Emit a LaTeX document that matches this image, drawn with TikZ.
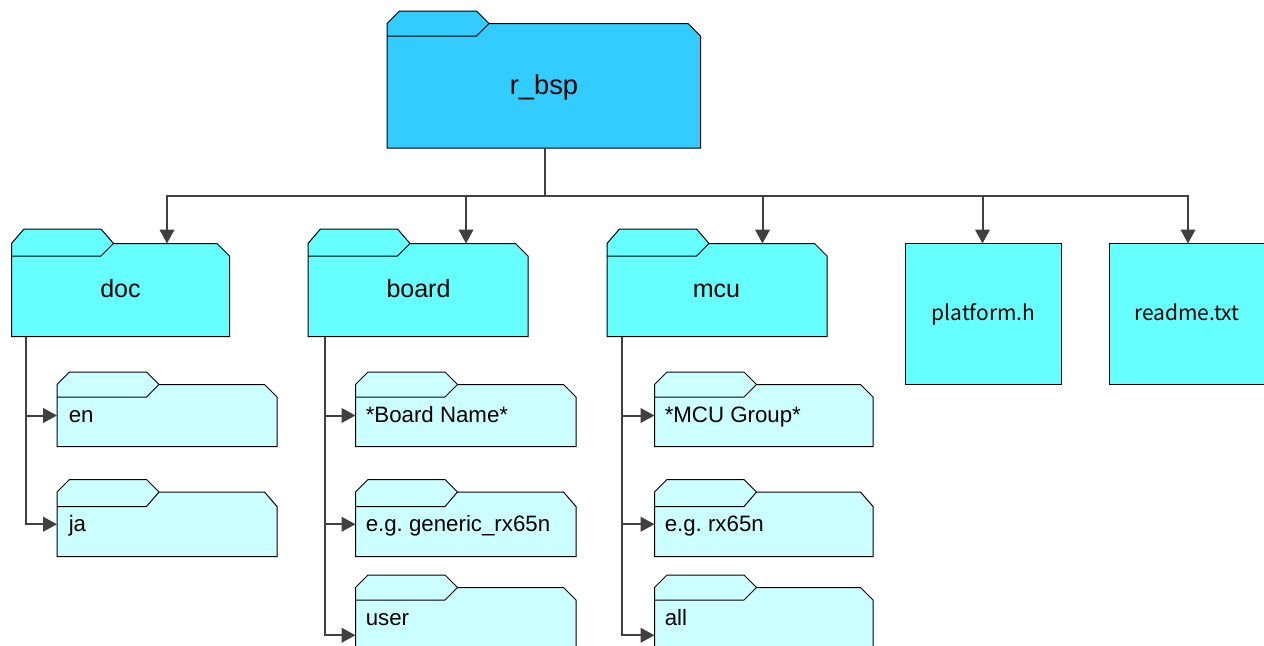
\documentclass[tikz,border=0pt]{standalone}
\usepackage{fontspec}
\setmainfont{Liberation Sans}
\newfontfamily\gothic{Noto Sans CJK JP}
\usetikzlibrary{arrows.meta}
\definecolor{rootblue}{HTML}{33CCFF}
\definecolor{midcyan}{HTML}{66FFFF}
\definecolor{palecyan}{HTML}{CCFFFF}
\definecolor{linkgrey}{HTML}{404040}
\frenchspacing
\tikzset{
  x=0.75pt,y=-0.75pt,
  outline/.style={draw=black,line width=0.75pt,line join=miter},
  anchorbox/.style={rectangle,inner sep=0pt,outer sep=0pt,anchor=north west},
  conn/.style={draw=linkgrey,line width=1.5pt,line join=miter},
  arrowconn/.style={conn,-{Triangle[length=10.5pt,width=11pt]}},
  lblroot/.style={anchor=base,inner sep=0pt,font=\fontsize{20.5pt}{24pt}\selectfont},
  lblmid/.style={anchor=base,inner sep=0pt,font=\fontsize{18.75pt}{22pt}\selectfont},
  lblsub/.style={anchor=base west,inner sep=0pt,font=\fontsize{16.7pt}{20pt}\selectfont},
  lblfile/.style={anchor=base,inner sep=0pt,font=\gothic\fontsize{15.75pt}{18pt}\selectfont},
}
% name, x1, x2, tab top, body top, tab line, bottom, fill
\newcommand{\folderbox}[8]{%
  \path[outline,fill=#8]
    (#2,#5) -- (#2+12.5,#4) -- (#2+89.5,#4) -- (#2+102,#5)
    -- (#3-12.5,#5) -- (#3,#6) -- (#3,#7) -- (#2,#7) -- cycle;
  \path[outline] (#2,#6) -- (#2+89.5,#6) -- (#2+102,#5);
  \node[anchorbox,minimum width={(#3-#2)*0.75pt},minimum height={(#7-#5)*0.75pt}] (#1) at (#2,#5) {};
}
\begin{document}
\begin{tikzpicture}
\useasboundingbox (0,0) rectangle (1264,646);

\folderbox{rbsp}{387}{700.5}{11}{23.5}{36}{148}{rootblue}
\node[lblroot] (rbspT) at (544,94.5) {r\_bsp};

\folderbox{doc}{11.5}{229.5}{229}{243.5}{256}{336.5}{midcyan}
\node[lblmid] (docT) at (120.5,297.3) {doc};
\folderbox{board}{308}{528}{229}{243.5}{256}{336.5}{midcyan}
\node[lblmid] (boardT) at (418.5,297.3) {board};
\folderbox{mcu}{607}{827}{229}{243.5}{256}{336.5}{midcyan}
\node[lblmid] (mcuT) at (716.5,297.3) {mcu};

\node[anchorbox,outline,fill=midcyan,minimum width={156*0.75pt},minimum height={140.5*0.75pt}] (platform) at (905.5,243.5) {};
\node[lblfile] (platformT) at (983.5,320.5) {platform.h};
\node[anchorbox,outline,fill=midcyan,minimum width={165*0.75pt},minimum height={140.5*0.75pt}] (readme) at (1109,243.5) {};
\node[lblfile] (readmeT) at (1187,320.5) {readme.txt};

\folderbox{en}{57}{277}{372}{384.5}{397}{446.5}{palecyan}
\node[lblsub] (enT) at (68.5,422.3) {en};
\folderbox{ja}{57}{277}{479.5}{492}{506.5}{556.5}{palecyan}
\node[lblsub] (jaT) at (68.5,531.2) {ja};

\folderbox{bname}{355.5}{576}{372}{384.5}{397}{446.5}{palecyan}
\node[lblsub] (bnameT) at (365.5,422.3) {*Board Name*};
\folderbox{bgen}{355.5}{576}{479.5}{492}{506.5}{556.5}{palecyan}
\node[lblsub] (bgenT) at (365.5,531.2) {e.g. generic\_rx65n};
\folderbox{buser}{355.5}{576}{575}{587.5}{600}{683}{palecyan}
\node[lblsub] (buserT) at (365.5,625) {user};

\folderbox{mgroup}{654.5}{873}{372}{384.5}{397}{446.5}{palecyan}
\node[lblsub] (mgroupT) at (664.5,422.3) {*MCU Group*};
\folderbox{mrx}{654.5}{873}{479.5}{492}{506.5}{556.5}{palecyan}
\node[lblsub] (mrxT) at (664.5,531.2) {e.g. rx65n};
\folderbox{mall}{654.5}{873}{575}{587.5}{600}{683}{palecyan}
\node[lblsub] (mallT) at (664.5,625) {all};

% connectors
\coordinate (trunk) at (544.5,195.5);
\coordinate (b1) at (167,195.5);
\coordinate (b2) at (466,195.5);
\coordinate (b3) at (762.5,195.5);
\coordinate (b4) at (982.5,195.5);
\coordinate (b5) at (1188,195.5);
\draw[conn] (trunk |- rbsp.south) -- (trunk);
\draw[arrowconn] (trunk) -- (b1) -- (b1 |- doc.north);
\draw[arrowconn] (trunk) -- (b5) -- (b5 |- readme.north);
\draw[arrowconn] (b2) -- (b2 |- board.north);
\draw[arrowconn] (b3) -- (b3 |- mcu.north);
\draw[arrowconn] (b4) -- (b4 |- platform.north);

\coordinate (t1) at (26,336.5);
\coordinate (t2) at (324.5,336.5);
\coordinate (t3) at (621.5,336.5);
\draw[arrowconn] (t1) |- (en.west);
\draw[arrowconn] (t1) |- (ja.west);
\draw[arrowconn] (t2) |- (bname.west);
\draw[arrowconn] (t2) |- (bgen.west);
\draw[arrowconn] (t2) |- (buser.west);
\draw[arrowconn] (t3) |- (mgroup.west);
\draw[arrowconn] (t3) |- (mrx.west);
\draw[arrowconn] (t3) |- (mall.west);
\end{tikzpicture}
\end{document}
